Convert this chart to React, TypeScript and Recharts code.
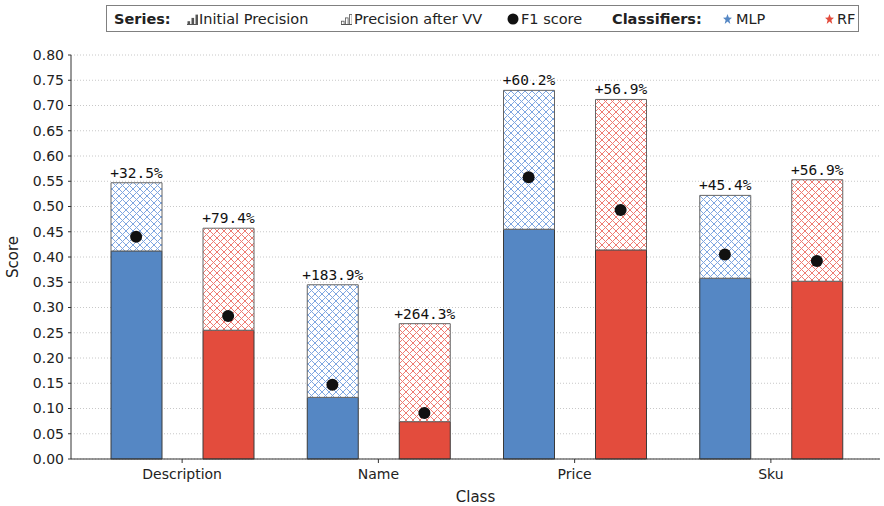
import {
  Bar,
  CartesianGrid,
  ComposedChart,
  LabelList,
  Scatter,
  XAxis,
  YAxis,
} from "recharts";

const categories = ["Description", "Name", "Price", "Sku"];
const mlpInitial = [0.412, 0.122, 0.455, 0.358];
const mlpAfterVV = [0.547, 0.345, 0.73, 0.522];
const rfInitial = [0.255, 0.074, 0.414, 0.352];
const rfAfterVV = [0.457, 0.268, 0.712, 0.553];
const mlpF1 = [0.44, 0.147, 0.558, 0.405];
const rfF1 = [0.283, 0.091, 0.493, 0.392];
const mlpGain = ["+32.5%", "+183.9%", "+60.2%", "+45.4%"];
const rfGain = ["+79.4%", "+264.3%", "+56.9%", "+56.9%"];
const yTicks = [
  0, 0.05, 0.1, 0.15, 0.2, 0.25, 0.3, 0.35, 0.4, 0.45, 0.5, 0.55, 0.6, 0.65,
  0.7, 0.75, 0.8,
];

const BLUE = "#5587c4";
const RED = "#e34c3d";
const BLUE_HATCH = "#7ea6e0";
const RED_HATCH = "#ee7b72";

const BAR_SIZE = 51;
const BAR_GAP = 41;
const PAD_LEFT = 13;
const PAD_RIGHT = 11;
const PLOT_W = 884 - 71 - 4;
const BAND = (PLOT_W - PAD_LEFT - PAD_RIGHT) / categories.length;
const DOT_SHIFT = (BAR_GAP / 2 + BAR_SIZE / 2) / BAND;

const rows = categories.map((c, i) => ({
  name: c,
  mlpBase: mlpInitial[i],
  mlpExtra: mlpAfterVV[i] - mlpInitial[i],
  rfBase: rfInitial[i],
  rfExtra: rfAfterVV[i] - rfInitial[i],
}));

const dots = categories.flatMap((_, i) => [
  { x: i - DOT_SHIFT, f1: mlpF1[i] },
  { x: i + DOT_SHIFT, f1: rfF1[i] },
]);

const font = "'DejaVu Sans', sans-serif";

function BarIcon({ hatched }: { hatched?: boolean }) {
  return (
    <svg width="11" height="12">
      {[0, 4, 8].map((x, k) => (
        <rect
          key={x}
          x={x + 0.5}
          y={11.5 - (k + 1) * 3.3}
          width={2.6}
          height={(k + 1) * 3.3}
          fill={hatched ? "#fff" : "#555"}
          stroke="#555"
          strokeWidth={hatched ? 0.8 : 0}
        />
      ))}
      <line x1={0} y1={11.5} x2={11} y2={11.5} stroke="#555" />
    </svg>
  );
}

function Star({ color }: { color: string }) {
  return (
    <svg width="9" height="10">
      <polygon
        points="4.5,0 5.8,3.5 9,3.8 6.4,6 7.3,10 4.5,7.6 1.7,10 2.6,6 0,3.8 3.2,3.5"
        fill={color}
      />
    </svg>
  );
}

function At({ x, children }: { x: number; children: any }) {
  return (
    <div
      style={{
        position: "absolute",
        left: x - 106,
        top: 0,
        height: 25,
        display: "flex",
        alignItems: "center",
        whiteSpace: "nowrap",
      }}
    >
      {children}
    </div>
  );
}

function LegendBox() {
  return (
    <div
      style={{
        position: "absolute",
        left: 106,
        top: 5,
        width: 753,
        height: 27,
        border: "1px solid #808080",
        boxSizing: "border-box",
        fontFamily: font,
        fontSize: 14.5,
        color: "#222",
        background: "#fff",
      }}
    >
      <At x={113}>
        <b>Series:</b>
      </At>
      <At x={186}>
        <BarIcon />
      </At>
      <At x={198}>Initial Precision</At>
      <At x={340}>
        <BarIcon hatched />
      </At>
      <At x={353}>Precision after VV</At>
      <At x={506}>
        <svg width="12" height="12">
          <circle cx={6} cy={6} r={5.5} fill="#111" />
        </svg>
      </At>
      <At x={520}>F1 score</At>
      <At x={611}>
        <b>Classifiers:</b>
      </At>
      <At x={722}>
        <Star color={BLUE} />
      </At>
      <At x={735}>MLP</At>
      <At x={824}>
        <Star color={RED} />
      </At>
      <At x={836}>RF</At>
    </div>
  );
}

const labelStyle = {
  fontFamily: "'DejaVu Sans Mono', monospace",
  fontSize: 14.5,
  fill: "#111",
};

export default function App() {
  return (
    <div
      style={{
        position: "absolute",
        left: 0,
        top: 0,
        width: 884,
        height: 506,
        background: "#fff",
      }}
    >
      <ComposedChart
        width={884}
        height={506}
        data={rows}
        margin={{ top: 55, right: 4, bottom: 0, left: 0 }}
        barGap={BAR_GAP}
        barSize={BAR_SIZE}
      >
        <defs>
          <pattern id="hatchBlue" width="7" height="7" patternUnits="userSpaceOnUse">
            <rect width="7" height="7" fill="#fff" />
            <path d="M-1,-1 L8,8 M8,-1 L-1,8" stroke={BLUE_HATCH} strokeWidth="1" />
          </pattern>
          <pattern id="hatchRed" width="7" height="7" patternUnits="userSpaceOnUse">
            <rect width="7" height="7" fill="#fff" />
            <path d="M-1,-1 L8,8 M8,-1 L-1,8" stroke={RED_HATCH} strokeWidth="1" />
          </pattern>
        </defs>
        <CartesianGrid vertical={false} stroke="#c8c8c8" strokeDasharray="1 2" />
        <XAxis
          xAxisId="cat"
          dataKey="name"
          height={47}
          padding={{ left: PAD_LEFT, right: PAD_RIGHT }}
          stroke="#333"
          tickSize={4}
          tickMargin={6}
          tick={{ fontFamily: font, fontSize: 14, fill: "#222" }}
          label={{
            value: "Class",
            position: "insideBottom",
            offset: 4,
            style: { fontFamily: font, fontSize: 15, fill: "#222" },
          }}
        />
        <XAxis
          xAxisId="num"
          type="number"
          dataKey="x"
          domain={[-0.5, 3.5]}
          allowDataOverflow
          padding={{ left: PAD_LEFT, right: PAD_RIGHT }}
          hide
        />
        <YAxis
          width={71}
          domain={[0, 0.8]}
          ticks={yTicks}
          interval={0}
          stroke="#333"
          tickSize={3}
          tickMargin={4}
          tickFormatter={(v: number) => v.toFixed(2)}
          tick={{ fontFamily: font, fontSize: 14, fill: "#222" }}
          label={{
            value: "Score",
            angle: -90,
            position: "insideLeft",
            offset: 13,
            style: { textAnchor: "middle", fontFamily: font, fontSize: 15, fill: "#222" },
          }}
        />
        <Bar
          xAxisId="cat"
          dataKey="mlpBase"
          stackId="mlp"
          fill={BLUE}
          stroke="#3a3a3a"
          strokeWidth={1}
          isAnimationActive={false}
        />
        <Bar
          xAxisId="cat"
          dataKey="mlpExtra"
          stackId="mlp"
          fill="url(#hatchBlue)"
          stroke="#666"
          strokeWidth={1}
          isAnimationActive={false}
        >
          <LabelList
            position="top"
            content={(p: any) => (
              <text x={p.x + p.width / 2} y={p.y - 5} textAnchor="middle" style={labelStyle}>
                {mlpGain[p.index]}
              </text>
            )}
          />
        </Bar>
        <Bar
          xAxisId="cat"
          dataKey="rfBase"
          stackId="rf"
          fill={RED}
          stroke="#3a3a3a"
          strokeWidth={1}
          isAnimationActive={false}
        />
        <Bar
          xAxisId="cat"
          dataKey="rfExtra"
          stackId="rf"
          fill="url(#hatchRed)"
          stroke="#666"
          strokeWidth={1}
          isAnimationActive={false}
        >
          <LabelList
            position="top"
            content={(p: any) => (
              <text x={p.x + p.width / 2} y={p.y - 5} textAnchor="middle" style={labelStyle}>
                {rfGain[p.index]}
              </text>
            )}
          />
        </Bar>
        <Scatter
          xAxisId="num"
          data={dots}
          dataKey="f1"
          fill="#111"
          isAnimationActive={false}
          shape={(p: any) => <circle cx={p.cx} cy={p.cy} r={6} fill="#111" />}
        />
      </ComposedChart>
      <LegendBox />
    </div>
  );
}
